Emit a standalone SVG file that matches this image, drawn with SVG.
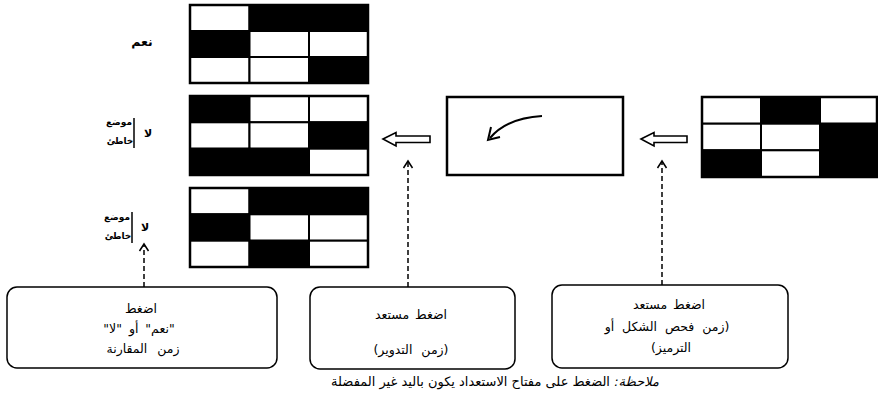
<svg xmlns="http://www.w3.org/2000/svg" width="878" height="402" viewBox="0 0 878 402">
<style>
.w{fill:#fff;stroke:#000;stroke-width:2}
.b{fill:#000;stroke:#000;stroke-width:2}
.frame{fill:none;stroke:#000;stroke-width:2.5}
.box{fill:#fff;stroke:#000;stroke-width:1.5}
.t{font-family:"DejaVu Sans",sans-serif;font-size:12.5px;fill:#000;text-anchor:middle;direction:rtl}
.lbl{font-family:"DejaVu Sans",sans-serif;font-size:11px;font-weight:bold;fill:#000;text-anchor:middle;direction:rtl}
.sm{font-family:"DejaVu Sans",sans-serif;font-size:9px;font-weight:bold;fill:#000;text-anchor:middle;direction:rtl}
.dash{fill:none;stroke:#000;stroke-width:1.5;stroke-dasharray:5,3}
.ah{fill:none;stroke:#000;stroke-width:1.5}
.hol{fill:#fff;stroke:#000;stroke-width:1.6}
.bar{stroke:#000;stroke-width:1.5}
</style>
<rect width="878" height="402" fill="#fff"/>

<g id="grid-yes">
<rect class="w" x="190" y="5" width="59.5" height="26"/><rect class="b" x="249.5" y="5" width="59.5" height="26"/><rect class="b" x="309" y="5" width="59" height="26"/>
<rect class="b" x="190" y="31" width="59.5" height="26"/><rect class="w" x="249.5" y="31" width="59.5" height="26"/><rect class="w" x="309" y="31" width="59" height="26"/>
<rect class="w" x="190" y="57" width="59.5" height="26"/><rect class="w" x="249.5" y="57" width="59.5" height="26"/><rect class="b" x="309" y="57" width="59" height="26"/>
<rect class="frame" x="190" y="5" width="178" height="78"/>
</g>
<g id="label-yes"><text class="lbl" x="142" y="46" style="font-size:12.5px">نعم</text></g>

<g id="grid-no1">
<rect class="b" x="190" y="96" width="59.5" height="26.3"/><rect class="w" x="249.5" y="96" width="59.5" height="26.3"/><rect class="w" x="309" y="96" width="59" height="26.3"/>
<rect class="w" x="190" y="122.3" width="59.5" height="26.4"/><rect class="w" x="249.5" y="122.3" width="59.5" height="26.4"/><rect class="b" x="309" y="122.3" width="59" height="26.4"/>
<rect class="b" x="190" y="148.7" width="59.5" height="26.3"/><rect class="b" x="249.5" y="148.7" width="59.5" height="26.3"/><rect class="w" x="309" y="148.7" width="59" height="26.3"/>
<rect class="frame" x="190" y="96" width="178" height="79"/>
</g>
<g id="label-no1">
<text class="sm" x="119" y="125">موضع</text>
<text class="sm" x="120" y="144">خاطئ</text>
<line class="bar" x1="134" y1="118" x2="134" y2="148"/>
<text class="lbl" x="148" y="137">لا</text>
</g>

<g id="grid-no2">
<rect class="w" x="190" y="188" width="59.5" height="26.3"/><rect class="b" x="249.5" y="188" width="59.5" height="26.3"/><rect class="b" x="309" y="188" width="59" height="26.3"/>
<rect class="b" x="190" y="214.3" width="59.5" height="26.4"/><rect class="w" x="249.5" y="214.3" width="59.5" height="26.4"/><rect class="w" x="309" y="214.3" width="59" height="26.4"/>
<rect class="w" x="190" y="240.7" width="59.5" height="26.3"/><rect class="b" x="249.5" y="240.7" width="59.5" height="26.3"/><rect class="w" x="309" y="240.7" width="59" height="26.3"/>
<rect class="frame" x="190" y="188" width="178" height="79"/>
</g>
<g id="label-no2">
<text class="sm" x="117" y="220">موضع</text>
<text class="sm" x="118" y="239">خاطئ</text>
<line class="bar" x1="132" y1="212" x2="132" y2="243"/>
<text class="lbl" x="145" y="231">لا</text>
</g>

<g id="rotate-box">
<rect x="447" y="97" width="176" height="78" fill="#fff" stroke="#000" stroke-width="2.5"/>
<path d="M542 116 Q507 118 490 138" fill="none" stroke="#000" stroke-width="2"/>
<polyline points="491,127 488,140 500,137" fill="none" stroke="#000" stroke-width="2"/>
</g>

<g id="grid-source">
<rect class="w" x="702" y="97" width="59" height="26.7"/><rect class="b" x="761" y="97" width="59" height="26.7"/><rect class="w" x="820" y="97" width="57" height="26.7"/>
<rect class="w" x="702" y="123.7" width="59" height="26.6"/><rect class="w" x="761" y="123.7" width="59" height="26.6"/><rect class="b" x="820" y="123.7" width="57" height="26.6"/>
<rect class="b" x="702" y="150.3" width="59" height="26.7"/><rect class="w" x="761" y="150.3" width="59" height="26.7"/><rect class="b" x="820" y="150.3" width="57" height="26.7"/>
<rect class="frame" x="702" y="97" width="175" height="80"/>
</g>

<g id="box-compare">
<rect class="box" x="7" y="287" width="270" height="81" rx="10"/>
<text class="t" x="141" y="313">اضغط</text>
<text class="t" x="139" y="333" word-spacing="3">"نعم" أو "لا"</text>
<text class="t" x="143" y="353" word-spacing="6">زمن المقارنة</text>
</g>
<g id="box-rotate">
<rect class="box" x="310" y="287" width="205" height="82" rx="10"/>
<text class="t" x="411" y="319" word-spacing="2">اضغط مستعد</text>
<text class="t" x="411" y="354" word-spacing="5">(زمن التدوير)</text>
</g>
<g id="box-encode">
<rect class="box" x="552" y="285" width="236" height="83" rx="10"/>
<text class="t" x="669" y="309" word-spacing="2">اضغط مستعد</text>
<text class="t" x="667" y="331" word-spacing="4">(زمن فحص الشكل أو</text>
<text class="t" x="671" y="352">الترميز)</text>
</g>

<g id="connectors">
<polygon class="hol" points="383,139 396,132.5 396,136 430,136 430,142.5 396,142.5 396,146"/>
<polygon class="hol" points="641,139 654,132.5 654,136 687,136 687,142.5 654,142.5 654,146"/>
<line class="dash" x1="408" y1="287" x2="408" y2="162"/>
<polyline class="ah" points="403.5,168 408,161 412.5,168"/>
<line class="dash" x1="662" y1="285" x2="662" y2="162"/>
<polyline class="ah" points="657.5,168 662,161 666.5,168"/>
<line class="dash" x1="144" y1="287" x2="144" y2="245"/>
<polyline class="ah" points="139.5,251 144,244 148.5,251"/>
</g>

<g id="note">
<text class="t" x="495" y="386" style="font-size:13px"><tspan font-style="italic">ملاحظة:</tspan> الضغط على مفتاح الاستعداد يكون باليد غير المفضلة</text>
</g>
</svg>
